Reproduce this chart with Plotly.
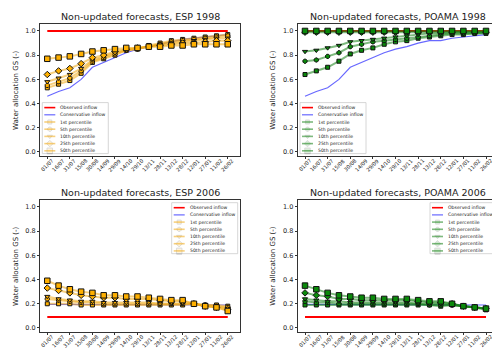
import plotly.graph_objects as go

dates = ["01/07", "16/07", "31/07", "15/08", "30/08", "14/09", "29/09", "14/10", "29/10",
         "13/11", "28/11", "13/12", "28/12", "12/01", "27/01", "11/02", "26/02"]

# ESP 1998
esp98_obs = [1.0, 1.0, 1.0, 1.0, 1.0, 1.0, 1.0, 1.0, 1.0, 1.0, 1.0, 1.0, 1.0, 1.0, 1.0, 1.0, 1.0]
esp98_cons = [0.46, 0.50, 0.53, 0.60, 0.70, 0.74, 0.78, 0.82, 0.85, 0.87, 0.89, 0.91, 0.93, 0.94, 0.95, 0.96, 0.97]
esp98_p1 = [0.53, 0.56, 0.59, 0.65, 0.74, 0.77, 0.80, 0.84, 0.85, 0.88, 0.90, 0.92, 0.93, 0.94, 0.95, 0.96, 0.97]
esp98_p5 = [0.55, 0.58, 0.61, 0.67, 0.75, 0.78, 0.81, 0.84, 0.85, 0.87, 0.89, 0.91, 0.92, 0.93, 0.94, 0.95, 0.96]
esp98_p10 = [0.58, 0.61, 0.64, 0.69, 0.76, 0.79, 0.82, 0.84, 0.86, 0.87, 0.89, 0.90, 0.91, 0.92, 0.93, 0.94, 0.94]
esp98_p25 = [0.64, 0.67, 0.69, 0.73, 0.78, 0.80, 0.83, 0.85, 0.86, 0.87, 0.88, 0.89, 0.90, 0.90, 0.91, 0.92, 0.92]
esp98_p50 = [0.77, 0.78, 0.79, 0.81, 0.83, 0.84, 0.85, 0.86, 0.86, 0.87, 0.87, 0.88, 0.88, 0.89, 0.89, 0.89, 0.89]

# POAMA 1998
poa98_obs = [1.0, 1.0, 1.0, 1.0, 1.0, 1.0, 1.0, 1.0, 1.0, 1.0, 1.0, 1.0, 1.0, 1.0, 1.0, 1.0, 1.0]
poa98_cons = [0.46, 0.50, 0.53, 0.60, 0.70, 0.74, 0.78, 0.82, 0.85, 0.87, 0.90, 0.92, 0.92, 0.94, 0.95, 0.96, 0.97]
poa98_p1 = [0.64, 0.67, 0.70, 0.75, 0.81, 0.84, 0.86, 0.89, 0.91, 0.92, 0.94, 0.95, 0.96, 0.97, 0.97, 0.98, 0.98]
poa98_p5 = [0.75, 0.76, 0.79, 0.82, 0.87, 0.89, 0.91, 0.92, 0.93, 0.94, 0.95, 0.96, 0.97, 0.98, 0.98, 0.98, 0.99]
poa98_p10 = [0.83, 0.84, 0.86, 0.88, 0.91, 0.92, 0.93, 0.94, 0.95, 0.96, 0.97, 0.98, 0.98, 0.99, 0.99, 0.99, 0.99]
poa98_p25 = [0.99, 0.99, 0.99, 0.99, 0.99, 0.99, 0.99, 0.99, 0.99, 0.99, 0.99, 0.99, 0.99, 0.99, 0.99, 0.99, 0.99]
poa98_p50 = [1.0, 1.0, 1.0, 1.0, 1.0, 1.0, 1.0, 1.0, 1.0, 1.0, 1.0, 1.0, 1.0, 1.0, 1.0, 1.0, 1.0]

# ESP 2006
esp06_obs = [0.09, 0.09, 0.09, 0.09, 0.09, 0.09, 0.09, 0.09, 0.09, 0.09, 0.09, 0.09, 0.09, 0.09, 0.09, 0.09, 0.09]
esp06_cons = [0.195, 0.195, 0.195, 0.19, 0.19, 0.19, 0.19, 0.19, 0.19, 0.19, 0.19, 0.19, 0.19, 0.19, 0.19, 0.19, 0.19]
esp06_p1 = [0.20, 0.20, 0.20, 0.19, 0.19, 0.19, 0.19, 0.19, 0.19, 0.19, 0.19, 0.19, 0.19, 0.20, 0.19, 0.19, 0.18]
esp06_p5 = [0.24, 0.23, 0.22, 0.21, 0.21, 0.20, 0.20, 0.20, 0.20, 0.20, 0.20, 0.20, 0.20, 0.20, 0.19, 0.18, 0.17]
esp06_p10 = [0.26, 0.24, 0.23, 0.22, 0.22, 0.21, 0.21, 0.21, 0.21, 0.21, 0.20, 0.20, 0.20, 0.20, 0.18, 0.18, 0.16]
esp06_p25 = [0.33, 0.31, 0.29, 0.27, 0.26, 0.25, 0.25, 0.24, 0.24, 0.24, 0.23, 0.22, 0.22, 0.20, 0.18, 0.17, 0.15]
esp06_p50 = [0.39, 0.35, 0.32, 0.30, 0.29, 0.27, 0.27, 0.26, 0.26, 0.25, 0.24, 0.23, 0.23, 0.20, 0.18, 0.17, 0.14]

# POAMA 2006
poa06_obs = [0.09, 0.09, 0.09, 0.09, 0.09, 0.09, 0.09, 0.09, 0.09, 0.09, 0.09, 0.09, 0.09, 0.09, 0.09, 0.09, 0.09]
poa06_cons = [0.195, 0.195, 0.195, 0.19, 0.19, 0.19, 0.19, 0.19, 0.19, 0.19, 0.19, 0.19, 0.19, 0.19, 0.19, 0.19, 0.19]
poa06_p1 = [0.19, 0.19, 0.19, 0.19, 0.19, 0.19, 0.19, 0.19, 0.19, 0.19, 0.19, 0.19, 0.18, 0.19, 0.18, 0.17, 0.15]
poa06_p5 = [0.22, 0.21, 0.21, 0.20, 0.20, 0.20, 0.20, 0.20, 0.20, 0.20, 0.20, 0.19, 0.19, 0.19, 0.18, 0.17, 0.16]
poa06_p10 = [0.24, 0.23, 0.22, 0.22, 0.21, 0.21, 0.21, 0.21, 0.21, 0.21, 0.20, 0.20, 0.20, 0.19, 0.18, 0.17, 0.16]
poa06_p25 = [0.29, 0.27, 0.26, 0.24, 0.24, 0.23, 0.23, 0.23, 0.23, 0.23, 0.22, 0.21, 0.21, 0.20, 0.18, 0.17, 0.16]
poa06_p50 = [0.35, 0.32, 0.29, 0.27, 0.26, 0.25, 0.25, 0.24, 0.24, 0.24, 0.23, 0.22, 0.22, 0.20, 0.18, 0.17, 0.16]

W, H = 500, 348
FONT = "DejaVu Sans"
TXT = "#222222"

PCT_NAMES = ["1st percentile", "5th percentile", "10th percentile", "25th percentile", "50th percentile"]
PCT_SYMBOLS = ["square", "octagon", "triangle-down", "diamond", "square"]
PCT_SIZES = [4, 4.5, 4.5, 5, 5.5]

ORANGE = {"marker": "#ffb000", "line": "rgba(240,170,20,0.55)"}
GREEN = {"marker": "#0a8a0a", "line": "rgba(20,130,20,0.55)"}

# (title, obs, cons, percentiles, colours, frame px [x0, x1, y0, y1], legend corner)
panels = [
    ("Non-updated forecasts, ESP 1998", esp98_obs, esp98_cons,
     [esp98_p1, esp98_p5, esp98_p10, esp98_p25, esp98_p50], ORANGE, (32.3, 231.7, 15.7, 147.6), "ll"),
    ("Non-updated forecasts, POAMA 1998", poa98_obs, poa98_cons,
     [poa98_p1, poa98_p5, poa98_p10, poa98_p25, poa98_p50], GREEN, (290, 490, 15.7, 147.6), "ll"),
    ("Non-updated forecasts, ESP 2006", esp06_obs, esp06_cons,
     [esp06_p1, esp06_p5, esp06_p10, esp06_p25, esp06_p50], ORANGE, (32.3, 231.7, 191.7, 323.6), "ur"),
    ("Non-updated forecasts, POAMA 2006", poa06_obs, poa06_cons,
     [poa06_p1, poa06_p5, poa06_p10, poa06_p25, poa06_p50], GREEN, (290, 490, 191.7, 323.6), "ur"),
]

fig = go.Figure()
layout = {}
annotations = []
shapes = []

for i, (title, obs, cons, pcts, col, (fx0, fx1, fy0, fy1), loc) in enumerate(panels):
    n = i + 1
    xa = "x" if n == 1 else f"x{n}"
    ya = "y" if n == 1 else f"y{n}"
    fig.add_trace(go.Scatter(x=dates, y=obs, mode="lines", line=dict(color="#ff0000", width=2),
                             xaxis=xa, yaxis=ya, showlegend=False))
    fig.add_trace(go.Scatter(x=dates, y=cons, mode="lines", line=dict(color="rgba(40,40,255,0.7)", width=1.2),
                             xaxis=xa, yaxis=ya, showlegend=False))
    for vals, sym, sz in zip(pcts, PCT_SYMBOLS, PCT_SIZES):
        fig.add_trace(go.Scatter(
            x=dates, y=vals, mode="lines+markers",
            line=dict(color=col["line"], width=2),
            marker=dict(symbol=sym, size=sz, color=col["marker"], line=dict(color="#111111", width=1)),
            xaxis=xa, yaxis=ya, showlegend=False))

    axis_common = dict(showline=True, mirror=True, linecolor="#333333", linewidth=0.8, automargin=False,
                       ticks="outside", ticklen=2.5, tickcolor="#333333", showgrid=False, zeroline=False)
    layout[f"xaxis{'' if n == 1 else n}"] = dict(
        axis_common, domain=[fx0 / W, fx1 / W], anchor=ya, type="category",
        range=[-0.62, 17.06], showticklabels=False)
    layout[f"yaxis{'' if n == 1 else n}"] = dict(
        axis_common, domain=[1 - fy1 / H, 1 - fy0 / H], anchor=xa, range=[-0.03, 1.06],
        tickvals=[0, 0.2, 0.4, 0.6, 0.8, 1.0], tickformat=".1f",
        tickfont=dict(size=6.5, color=TXT, family=FONT))

    # rotated date labels, centred under each tick like matplotlib's rotation=45
    for d in dates:
        annotations.append(dict(text=d, x=d, xref=xa, y=1 - (fy1 + 1.0) / H, yref="paper",
                                showarrow=False, textangle=-45, xanchor="center", yanchor="top",
                                borderpad=0, font=dict(size=5.2, color=TXT, family=FONT)))

    annotations.append(dict(text=title, x=(fx0 + fx1) / 2 / W, y=1 - 8.5 / H if n <= 2 else 1 - 184 / H,
                            xref="paper", yref="paper", showarrow=False, xanchor="center", yanchor="middle",
                            font=dict(size=9.5, color=TXT, family=FONT)))
    annotations.append(dict(text="Water allocation GS (-)", x=(fx0 - 25) / W, y=1 - (fy0 + fy1) / 2 / H,
                            xref="paper", yref="paper", showarrow=False, textangle=-90,
                            xanchor="center", yanchor="middle", font=dict(size=7, color=TXT, family=FONT)))

    # hand-built compact legend (plotly's own legend rows are too tall at this size)
    lw, lh = 66, 51
    if loc == "ll":
        lx0, ly0 = fx0 + 2, fy1 - 2 - lh
    else:
        lx0, ly0 = fx1 - 2 - lw, fy0 + 3
    shapes.append(dict(type="rect", xref="paper", yref="paper",
                       x0=lx0 / W, x1=(lx0 + lw) / W, y0=1 - ly0 / H, y1=1 - (ly0 + lh) / H,
                       line=dict(color="#cccccc", width=0.8), fillcolor="rgba(255,255,255,0.85)", layer="above"))
    names = ["Observed inflow", "Conservative inflow"] + PCT_NAMES
    row_h = 7.2
    for r, name in enumerate(names):
        ry = ly0 + 5 + r * row_h
        hx0, hx1 = lx0 + 2, lx0 + 13
        if r == 0:
            lc, lwid = "#ff0000", 1.6
        elif r == 1:
            lc, lwid = "rgba(40,40,255,0.7)", 1.2
        else:
            lc, lwid = col["line"], 1.6
        shapes.append(dict(type="line", xref="paper", yref="paper", x0=hx0 / W, x1=hx1 / W,
                           y0=1 - ry / H, y1=1 - ry / H, line=dict(color=lc, width=lwid), layer="above"))
        if r >= 2:
            k = r - 2
            fig.add_trace(go.Scatter(
                x=[(hx0 + hx1) / 2], y=[ry], mode="markers", xaxis="x5", yaxis="y5", showlegend=False,
                marker=dict(symbol=PCT_SYMBOLS[k], size=PCT_SIZES[k], color=col["marker"],
                            line=dict(color="#111111", width=1))))
        annotations.append(dict(text=name, x=(lx0 + 16) / W, y=1 - ry / H, xref="paper", yref="paper",
                                showarrow=False, xanchor="left", yanchor="middle",
                                font=dict(size=4.6, color=TXT, family=FONT)))

layout["xaxis5"] = dict(domain=[0, 1], range=[0, W], visible=False, anchor="y5", fixedrange=True)
layout["yaxis5"] = dict(domain=[0, 1], range=[H, 0], visible=False, anchor="x5", fixedrange=True)

fig.update_layout(
    width=W, height=H,
    margin=dict(l=0, r=0, t=0, b=0),
    paper_bgcolor="white", plot_bgcolor="rgba(0,0,0,0)",
    font=dict(family=FONT, color=TXT),
    annotations=annotations, shapes=shapes,
    showlegend=False,
    **layout,
)

fig.write_html("out.html")
